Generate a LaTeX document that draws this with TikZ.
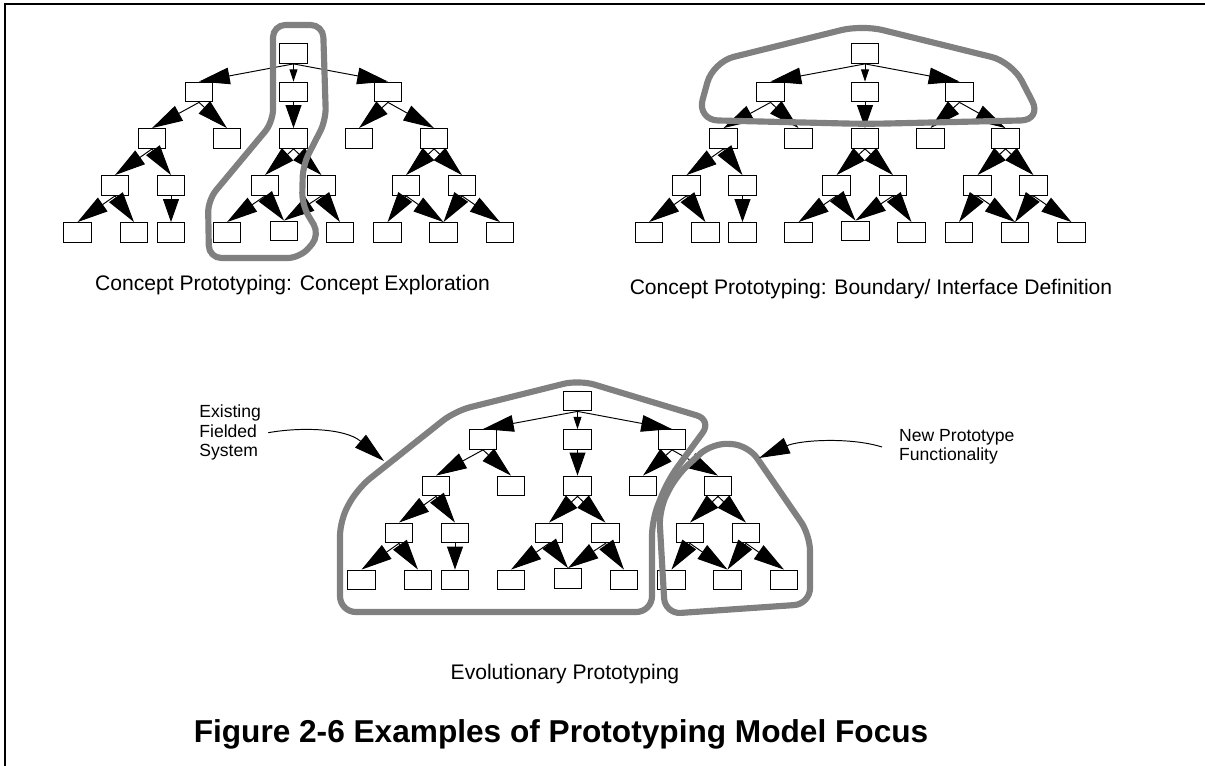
\documentclass[tikz,border=0pt]{standalone}
\usepackage{fontspec}
\setmainfont{Liberation Sans}
\usetikzlibrary{arrows.meta}

\begin{document}
\begin{tikzpicture}[
    x=0.02cm, y=-0.02cm,
    box/.style = {draw, line width=0.75pt, minimum width=0.55cm, minimum height=0.39cm, inner sep=0pt},
    link/.style = {line width=0.55pt, -{Triangle[length=17.5pt, width=9.5pt]}},
    vlink/.style = {line width=0.55pt, -{Triangle[length=13pt, width=9pt]}},
    slink/.style = {line width=0.55pt, -{Triangle[length=7pt, width=4.5pt]}},
    hull/.style = {draw=black!50, line width=3.5pt},
    caption/.style = {font=\fontsize{12}{14}\selectfont, anchor=base},
    note/.style = {font=\fontsize{10}{11}\selectfont, align=left, inner ysep=0pt, inner xsep=4pt}
    ]
    \useasboundingbox (0,0) rectangle (1205,766);
    % frame
    \draw[line width=0.8pt] (5,766) -- (5,4) -- (1205,4);

    % the same tree three times
    \foreach \t/\dx/\dy in {tl/0/0, tr/571.5/0, ev/284/347.5} {
      \begin{scope}[shift={(\dx,\dy)}]
        \foreach \n/\px/\py in {r/293.5/53.5,
            a1/199/92, a2/293.5/92, a3/388/92,
            b1/152/138.5, b2/227/138.5, b3/293.5/138.5, b4/359/138.5, b5/434/138.5,
            c1/115/185.5, c2/171/185.5, c3/265/185.5, c4/321.5/185.5, c5/406/185.5, c6/462/185.5,
            d1/77.5/232.5, d2/134/232.5, d3/171/232.5, d4/227/232.5, d5/284/231, d6/340/232.5,
            d7/387.5/232.5, d8/443.5/232.5, d9/500/232.5}
          \node[box] (\t-\n) at (\px,\py) {};
        \foreach \p/\c in {r/a1, r/a3, a1/b1, a1/b2, a3/b4, a3/b5, b1/c1, b1/c2,
            b3/c3, b3/c4, b5/c5, b5/c6, c1/d1, c1/d2, c3/d4, c3/d5, c4/d5, c4/d6,
            c5/d7, c5/d8, c6/d8, c6/d9}
          \draw[link] (\t-\p.south) -- (\t-\c.north);
        \draw[slink] (\t-r) -- (\t-a2);
        \draw[vlink] (\t-a2) -- (\t-b3);
        \draw[vlink] (\t-c2) -- (\t-d3);
      \end{scope}
    }

    % focus outlines
    \draw[hull, rounded corners=7pt] (273,25) -- (323,25) -- (326,120) -- (303,165) -- (302,205)
      -- (320,235) -- (300,258) -- (209,258) -- (208,200) -- (273,122) -- cycle;
    \draw[hull, rounded corners=12pt] (697,120) -- (713,62) -- (862,25) -- (1012,62)
      -- (1042,120) -- (866,124) -- cycle;
    \draw[hull, rounded corners=9pt] (579,380) -- (712,420) -- (668,480) -- (652,520) -- (652,612)
      -- (340,612) -- (340,520) -- (358,488) -- (455,411) -- cycle;
    \draw[hull, rounded corners=9pt] (712,443) -- (748,445) -- (810,535) -- (810,604)
      -- (665,614) -- (659,510) -- (676,476) -- cycle;

    % labels
    \node[caption] (cap-tl) at (292.5,291) {Concept Prototyping: Concept Exploration};
    \node[caption] (cap-tr) at (871,295) {Concept Prototyping: Boundary/ Interface Definition};
    \node[caption] (cap-ev) at (565,680) {Evolutionary Prototyping};
    \node[anchor=base, font=\bfseries\fontsize{18}{21}\selectfont] (title) at (561,743)
      {Figure 2-6 Examples of Prototyping Model Focus};

    \node[note, anchor=west] (old) at (192,432.7) {Existing\\Fielded\\System};
    \node[note, anchor=west, inner xsep=9.6pt] (new) at (882,447) {New Prototype\\Functionality};
    \coordinate (old-tip) at (384,461);
    \coordinate (new-tip) at (759,458);
    \draw[link] (old.east) .. controls (300,427) and (345,428) .. (old-tip);
    \draw[link] (new.west) .. controls (850,437) and (800,440) .. (new-tip);
\end{tikzpicture}
\end{document}
